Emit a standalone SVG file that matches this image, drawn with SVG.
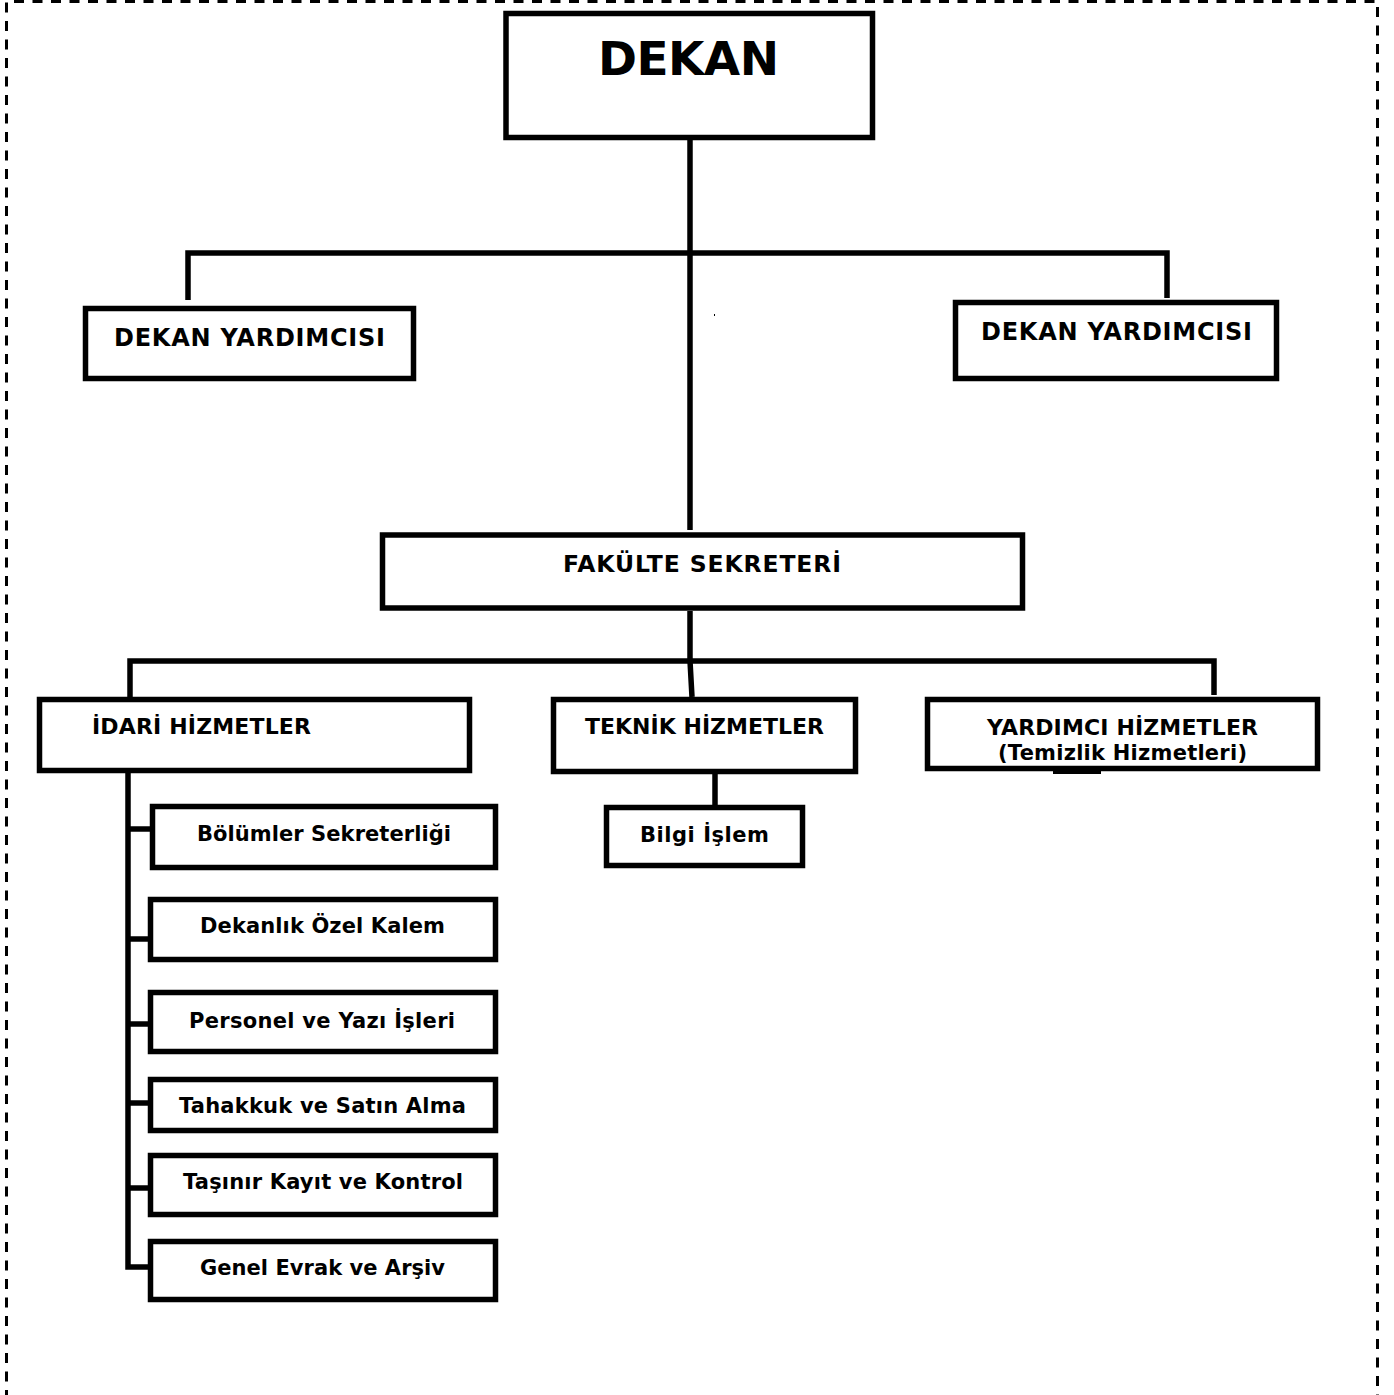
<svg xmlns="http://www.w3.org/2000/svg" width="1394" height="1395" viewBox="0 0 1394 1395">
<style>
.box{fill:#fff;stroke:#000;stroke-width:5.5}
.frame{fill:none;stroke:#000;stroke-width:5.5}
.t{font-family:"DejaVu Sans","Verdana","Liberation Sans",sans-serif;font-weight:bold;fill:#000;font-size:21px}
.c{fill:none;stroke:#000;stroke-width:5.5}
.border{fill:none;stroke:#000;stroke-width:3;stroke-dasharray:10 8.5}
</style>
<rect width="1394" height="1395" fill="#fff"/>
<path class="border" d="M6.5 1400 V1.5 H1377.5 V1400"/>
<g id="connectors">
<path class="c" d="M690 140 V530"/>
<path class="c" d="M188 300 V253 H1167 V298"/>
<path class="c" d="M690 611 V661 L692 697"/>
<path class="c" d="M130 697 V661 H1214 V695"/>
<path class="c" d="M715 774 V805"/>
<path class="c" d="M128 773 V1267 H150"/>
<path class="c" d="M128 829 H152"/>
<path class="c" d="M128 939 H150"/>
<path class="c" d="M128 1024 H150"/>
<path class="c" d="M128 1103 H150"/>
<path class="c" d="M128 1188 H150"/>
</g>
<g id="dekan">
<rect class="box" x="506" y="13.5" width="366.5" height="124"/>
<text class="t" x="598" y="75" style="font-size:47px" textLength="181">DEKAN</text>
</g>
<g id="dekan-yardimcisi-1">
<rect class="box" x="85.5" y="308.5" width="328" height="70"/>
<text class="t" x="114" y="346" style="font-size:24px" textLength="271">DEKAN YARDIMCISI</text>
</g>
<g id="dekan-yardimcisi-2">
<rect class="box" x="955.5" y="302.5" width="321" height="76"/>
<text class="t" x="981" y="340" style="font-size:24px" textLength="271">DEKAN YARDIMCISI</text>
</g>
<g id="fakulte-sekreteri">
<rect class="box" x="382.5" y="535" width="640" height="73"/>
<text class="t" x="563" y="572" style="font-size:23.5px" textLength="278">FAKÜLTE SEKRETERİ</text>
</g>
<g id="idari-hizmetler">
<rect class="box" x="39.5" y="699.5" width="430" height="71"/>
<text class="t" x="92" y="734" style="font-size:22px" textLength="219">İDARİ HİZMETLER</text>
</g>
<g id="teknik-hizmetler">
<rect class="box" x="553.5" y="699.5" width="302" height="72"/>
<text class="t" x="585" y="734" style="font-size:22px" textLength="239">TEKNİK HİZMETLER</text>
</g>
<g id="yardimci-hizmetler">
<rect x="927.5" y="699.5" width="390" height="69" fill="#fff"/>
<text class="t" x="987" y="735" style="font-size:22px" textLength="271">YARDIMCI HİZMETLER</text>
<text class="t" x="998" y="760" style="font-size:21px" textLength="249">(Temizlik Hizmetleri)</text>
<rect class="frame" x="927.5" y="699.5" width="390" height="69"/>
<rect x="1053" y="770" width="48" height="4" fill="#000"/>
</g>
<g id="bilgi-islem">
<rect class="box" x="606.5" y="807.5" width="196" height="58"/>
<text class="t" x="640" y="842" textLength="129">Bilgi İşlem</text>
</g>
<g id="bolumler-sekreterligi">
<rect class="box" x="152.5" y="806.5" width="343" height="61"/>
<text class="t" x="197" y="841" textLength="254">Bölümler Sekreterliği</text>
</g>
<g id="dekanlik-ozel-kalem">
<rect class="box" x="150.5" y="899.5" width="345" height="60"/>
<text class="t" x="200" y="933" textLength="245">Dekanlık Özel Kalem</text>
</g>
<g id="personel-yazi-isleri">
<rect class="box" x="150.5" y="992.5" width="345" height="59"/>
<text class="t" x="189" y="1028" textLength="266">Personel ve Yazı İşleri</text>
</g>
<g id="tahakkuk-satin-alma">
<rect class="box" x="150.5" y="1079.5" width="345" height="51"/>
<text class="t" x="179" y="1113" textLength="287">Tahakkuk ve Satın Alma</text>
</g>
<g id="tasinir-kayit-kontrol">
<rect class="box" x="150.5" y="1155.5" width="345" height="59"/>
<text class="t" x="183" y="1189" textLength="280">Taşınır Kayıt ve Kontrol</text>
</g>
<g id="genel-evrak-arsiv">
<rect class="box" x="150.5" y="1241.5" width="345" height="58"/>
<text class="t" x="200" y="1275" textLength="245">Genel Evrak ve Arşiv</text>
</g>
<rect x="714" y="314" width="1" height="2" fill="#000"/>
</svg>
